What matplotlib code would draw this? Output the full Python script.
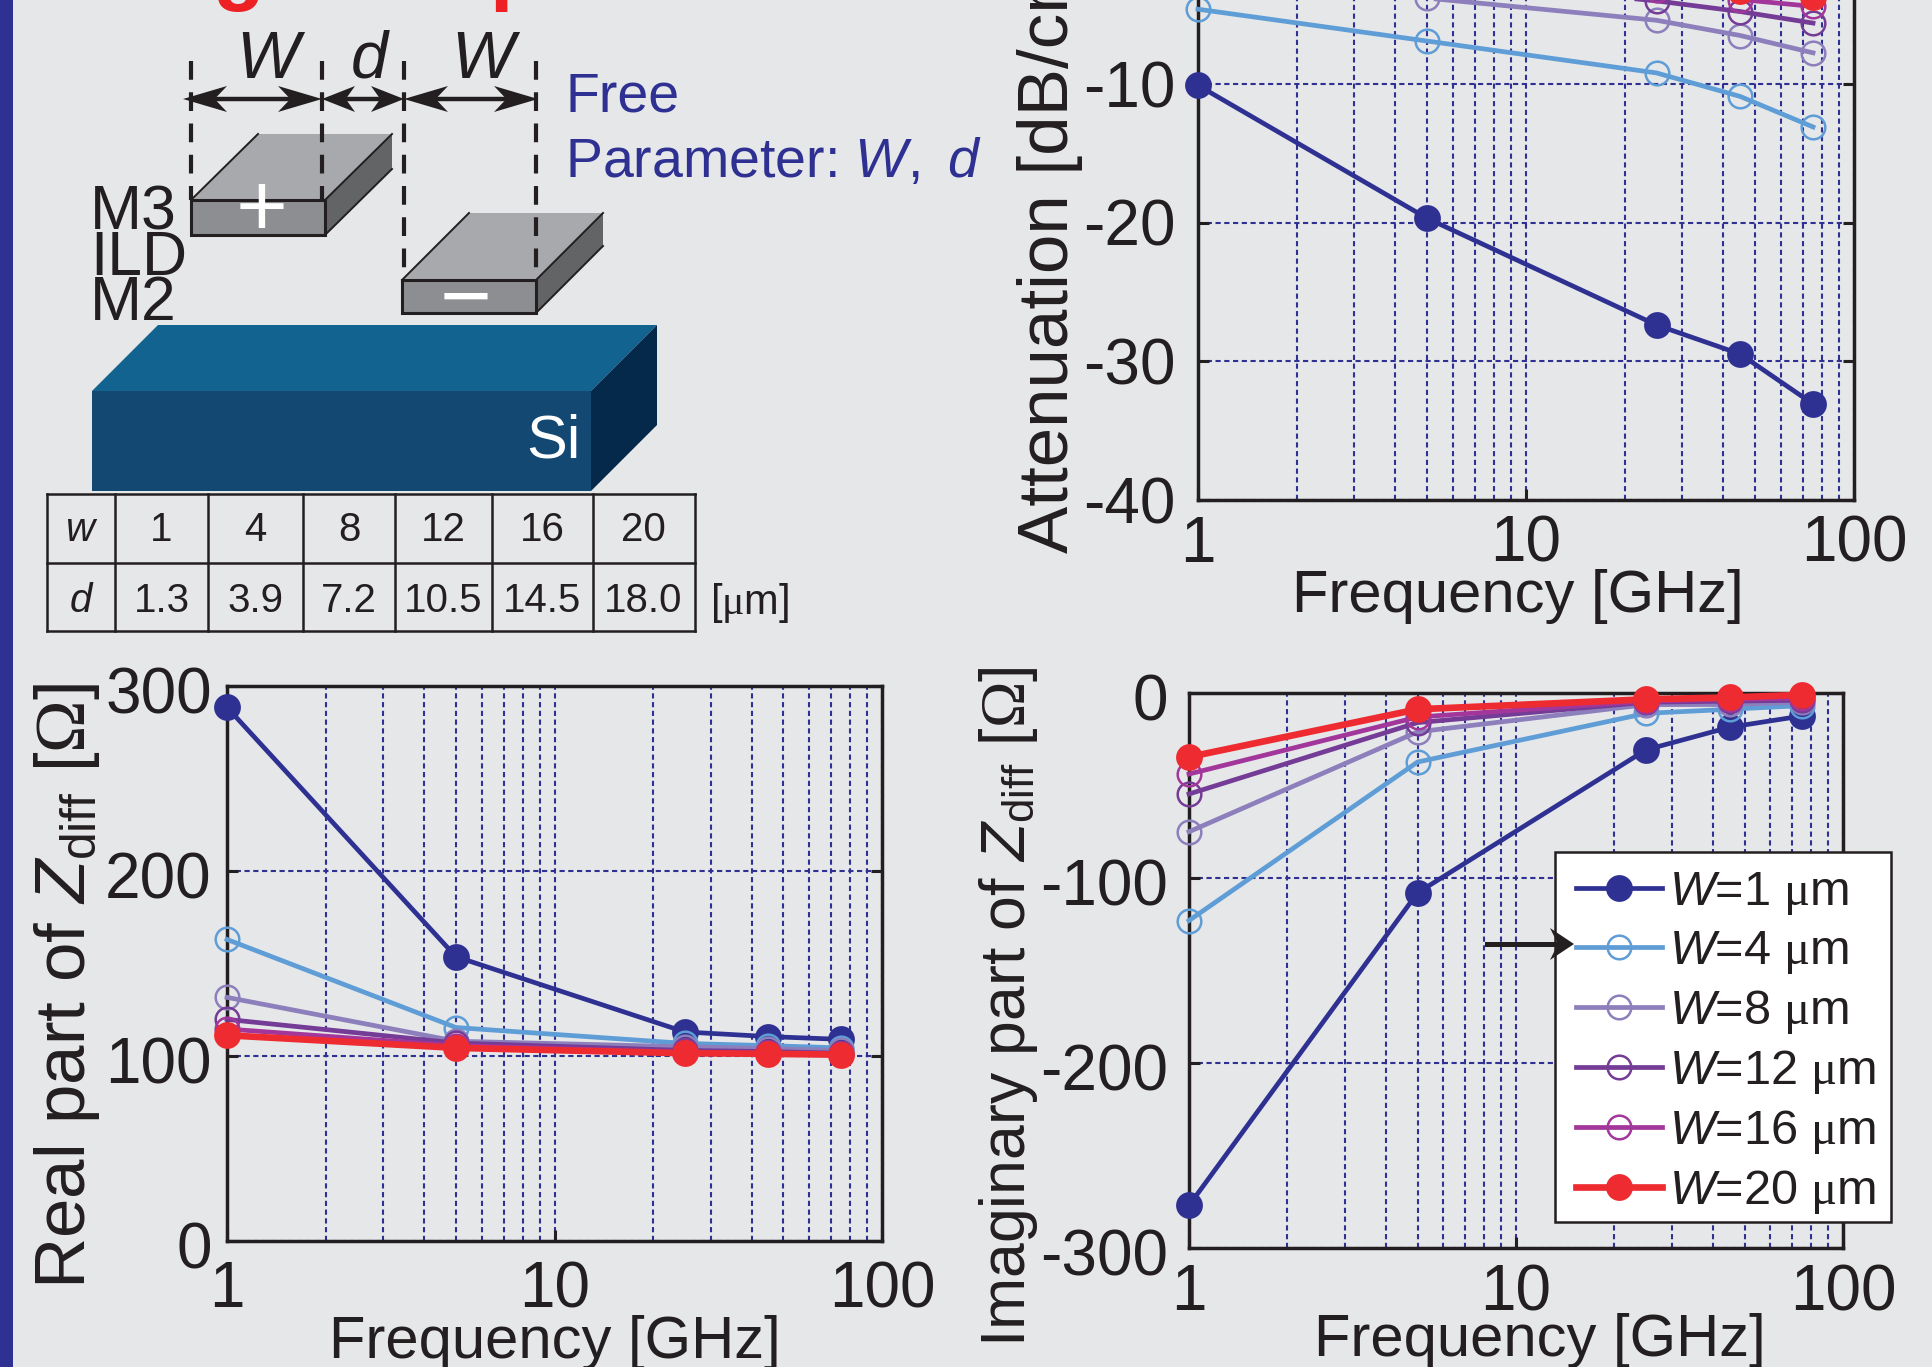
import matplotlib
matplotlib.use("Agg")
import matplotlib.pyplot as plt
from matplotlib.patches import Polygon, Rectangle
from matplotlib.transforms import ScaledTranslation

plt.rcParams['font.family'] = ['Liberation Sans', 'DejaVu Sans']
plt.rcParams['axes.unicode_minus'] = False
plt.rcParams['mathtext.fontset'] = 'custom'
plt.rcParams['mathtext.rm'] = 'Liberation Sans'
plt.rcParams['mathtext.it'] = 'Liberation Sans:italic'
plt.rcParams['mathtext.bf'] = 'Liberation Serif'

FIG_W, FIG_H = 1932, 1367
BG = '#e6e7e9'
NAVY = '#2e3192'
INK = '#231f20'

# data
freq = [1, 5, 25, 45, 75]
widths = [1, 4, 8, 12, 16, 20]
gaps = ['1.3', '3.9', '7.2', '10.5', '14.5', '18.0']
colors = ['#2e3192', '#5f9dd6', '#8c7fbc', '#743c96', '#a3369a', '#ee2b30']

atten_1 = [-10.1, -19.7, -27.4, -29.5, -33.1]
atten_4 = [-4.6, -6.9, -9.2, -10.9, -13.1]
atten_8 = [-2.6, -3.8, -5.4, -6.5, -7.75]
atten_12 = [-1.6, -2.4, -4.0, -4.77, -5.6]
atten_16 = [-1.3, -2.0, -3.2, -3.9, -4.4]
atten_20 = [-1.0, -1.7, -2.8, -3.3, -3.7]

real_1 = [288.5, 153.7, 113, 110.5, 109]
real_4 = [163, 115.4, 106.8, 105.6, 104.4]
real_8 = [131.7, 108, 105, 104, 103]
real_12 = [119.8, 107, 103, 102.4, 101.5]
real_16 = [114.6, 105.6, 102, 101.5, 101]
real_20 = [111.2, 104.4, 101.5, 101.2, 100.7]

imag_1 = [-277, -108, -30.7, -18.5, -12.4]
imag_4 = [-123, -37.3, -11, -8.8, -6.8]
imag_8 = [-75, -21, -6.3, -6.2, -5]
imag_12 = [-54.6, -16, -5, -4.4, -3.9]
imag_16 = [-43.8, -13, -4.4, -3.4, -2.7]
imag_20 = [-34.6, -8.8, -3.4, -2.4, -1]

atten = [atten_1, atten_4, atten_8, atten_12, atten_16, atten_20]
real = [real_1, real_4, real_8, real_12, real_16, real_20]
imag = [imag_1, imag_4, imag_8, imag_12, imag_16, imag_20]

fig = plt.figure(figsize=(FIG_W / 100, FIG_H / 100), dpi=100, facecolor=BG)

# full figure overlay in pixel coordinates, for the sketch and the loose text
ov = fig.add_axes([0, 0, 1, 1], zorder=5)
ov.set_xlim(0, FIG_W)
ov.set_ylim(FIG_H, 0)
ov.axis('off')
ov.patch.set_alpha(0)


def make_axes(left, right, top, bottom):
    ax = fig.add_axes([left / FIG_W, 1 - bottom / FIG_H,
                       (right - left) / FIG_W, (bottom - top) / FIG_H], zorder=2)
    ax.set_facecolor(BG)
    ax.set_xscale('log')
    ax.set_xlim(1, 100)
    ax.set_xticks([1, 10, 100], ['1', '10', '100'])
    ax.tick_params(axis='x', which='minor', length=0, labelbottom=False)
    ax.grid(True, which='both', color=NAVY, ls=(0, (2.5, 1.7)), lw=1.5)
    ax.set_axisbelow(True)
    for s in ax.spines.values():
        s.set_linewidth(2.5)
        s.set_color(INK)
    return ax


def draw_series(ax, rows):
    for i, vals in enumerate(rows):
        filled = i == 0 or i == 5
        lw = 4.8 if i == 5 else 3.4
        ax.plot(freq, vals, color=colors[i], lw=lw, marker='o',
                ms=17.5 if filled else 17,
                mfc=colors[i] if filled else 'none',
                mec=colors[i], mew=1.8, clip_on=False, zorder=3 + i,
                label=r'$\mathit{W}$=%d $\mathbf{\mu}$m' % widths[i])


def finish(ax, yticks, xpad, ypad, ydrop=0):
    ax.set_yticks(yticks, [str(v) for v in yticks])
    ax.set_ylim(min(yticks), max(yticks))
    ax.tick_params(axis='both', which='major', direction='in', length=8, width=2.2,
                   right=True, labelsize=46, labelcolor=INK, color=INK)
    ax.tick_params(axis='x', pad=xpad)
    ax.tick_params(axis='y', pad=ypad)
    if ydrop:
        # the value labels sit a little below their ticks in the lower panels
        off = ScaledTranslation(0, -ydrop / 100, fig.dpi_scale_trans)
        for t in ax.get_yticklabels():
            t.set_transform(t.get_transform() + off)


ax_a = make_axes(1198, 1854, -54.5, 499.5)
draw_series(ax_a, atten)
finish(ax_a, [-40, -30, -20, -10, 0], 11, 16)

ax_r = make_axes(227, 882, 686, 1241)
draw_series(ax_r, real)
finish(ax_r, [0, 100, 200, 300], 14, 11, ydrop=4)

ax_i = make_axes(1189, 1843, 693, 1248)
draw_series(ax_i, imag)
finish(ax_i, [-300, -200, -100, 0], 11, 15, ydrop=4)

# legend box is drawn on its own so that its size can follow the reference
ax_i.add_patch(Rectangle((1555 / FIG_W, 1 - 1222 / FIG_H), 336 / FIG_W, 370 / FIG_H,
                         transform=fig.transFigure, fc='white', ec=INK, lw=1.8,
                         clip_on=False, zorder=19))
leg = ax_i.legend(loc='upper left', bbox_to_anchor=(1558.5 / FIG_W, 1 - 852 / FIG_H),
                  bbox_transform=fig.transFigure, borderaxespad=0, fontsize=35,
                  frameon=False, handlelength=1.75, handletextpad=0.145,
                  labelspacing=0.246, borderpad=0.37, labelcolor=INK)
leg.set_zorder(20)


def label(x, y, s, size, rot=0, **kw):
    kw.setdefault('color', INK)
    ov.text(x, y, s, fontsize=size, rotation=rot, rotation_mode='anchor',
            va='baseline', clip_on=False, **kw)


# axis titles
label(1518, 612, 'Frequency [GHz]', 43, ha='center')
label(555, 1358, 'Frequency [GHz]', 43, ha='center')
label(1540, 1356, 'Frequency [GHz]', 43, ha='center')
label(1068, 553, r'Attenuation [dB/cm]', 51, rot=90, ha='left')
label(85, 1289, r'Real part of $\mathit{Z}_{\mathrm{diff}}$ [$\mathbf{\Omega}$]', 51, rot=90, ha='left')
label(1025, 1347, r'Imaginary part of $\mathit{Z}_{\mathrm{diff}}$ [$\mathbf{\Omega}$]', 45, rot=90, ha='left')

# left bar and the lower ends of the cropped red heading
ov.add_patch(Rectangle((0, 0), 12.5, FIG_H, color=NAVY, lw=0))
label(212, -6.5, 'g', 61, color='#ed2024', fontweight='bold')
label(489, -6.5, 'p', 61, color='#ed2024', fontweight='bold')


def block(x0, x1, y0, y1, dx, dy, top, front, side, edge=None):
    ec = edge if edge else 'none'
    lw = 2.2 if edge else 0
    ov.add_patch(Polygon([(x0, y0), (x0 + dx, y0 - dy), (x1 + dx, y0 - dy), (x1, y0)],
                         fc=top, ec='none'))
    ov.add_patch(Polygon([(x1, y0), (x1 + dx, y0 - dy), (x1 + dx, y1 - dy), (x1, y1)],
                         fc=side, ec='none'))
    ov.add_patch(Rectangle((x0, y0), x1 - x0, y1 - y0, fc=front, ec=ec, lw=lw))
    if edge:
        ov.plot([x0, x0 + dx], [y0, y0 - dy], color=edge, lw=1.4)
        ov.plot([x1, x1 + dx], [y0, y0 - dy], color=edge, lw=1.4)
        ov.plot([x1, x1 + dx], [y1, y1 - dy], color=edge, lw=1.4)


def head(tip, y, sign, size):
    ov.add_patch(Polygon([(tip, y), (tip + sign * size, y - 13), (tip + sign * size * 0.72, y),
                          (tip + sign * size, y + 13)], fc=INK, ec='none', zorder=6))


# silicon and the two metal lines
block(92, 591, 391, 491, 66, 66, '#136391', '#134873', '#05294b')
block(191, 325, 200, 235, 67, 66, '#a7a9ac', '#8c8e91', '#636466', edge=INK)
block(402, 536, 280, 313, 67, 67, '#a7a9ac', '#8c8e91', '#636466', edge=INK)

for x, y_end in [(191, 200), (322, 200), (404, 280), (536, 280)]:
    ov.plot([x, x], [61, y_end], color=INK, lw=3.0, ls=(0, (4.5, 3.0)), zorder=5)

for a, b, size in [(183, 322, 44), (322, 404, 33), (404, 538, 44)]:
    ov.plot([a + 20, b - 20], [99, 99], color=INK, lw=3.2, zorder=6)
    head(a, 99, 1, size)
    head(b, 99, -1, size)

ov.text(261.5, 203, '+', fontsize=64, color='white', ha='center', va='center_baseline', zorder=7)
ov.text(466, 293, '\u2212', fontsize=64, color='white', ha='center', va='center_baseline', zorder=7)

label(268, 78, 'W', 48, ha='center', style='italic')
label(369, 78, 'd', 48, ha='center', style='italic')
label(483, 78, 'W', 48, ha='center', style='italic')
label(565, 112, 'Free', 40, color=NAVY)
label(565, 177.5, r'Parameter: $\mathit{W,}$ $\mathit{d}$', 40, color=NAVY)
label(90, 229, 'M3', 45)
label(90, 275, 'ILD', 45)
label(90, 320.5, 'M2', 45)
label(526, 457, 'Si', 44, color='white')

# small table of widths and gaps
col_x = [46.5, 115, 208, 303, 395, 492, 592.5, 694.5]
row_y = [494, 563, 631]
for x in col_x:
    ov.plot([x, x], [row_y[0], row_y[-1]], color=INK, lw=1.8, solid_capstyle='projecting')
for y in row_y:
    ov.plot([col_x[0], col_x[-1]], [y, y], color=INK, lw=1.8, solid_capstyle='projecting')
label(81, 541, 'w', 29, ha='center', style='italic')
label(81, 612, 'd', 29, ha='center', style='italic')
for i in range(6):
    xc = (col_x[i + 1] + col_x[i + 2]) / 2
    label(xc, 541, str(widths[i]), 29, ha='center')
    label(xc, 612, gaps[i], 29, ha='center')
label(710, 614, r'[$\mathbf{\mu}$m]', 30)

# arrow pointing at the W=4 legend entry
ov.plot([1487, 1560], [944, 944], color=INK, lw=3.6, zorder=21)
ov.add_patch(Polygon([(1574, 944), (1550, 928), (1558, 944), (1550, 960)], fc=INK, ec='none', zorder=21))

fig.savefig('out.png', dpi=100, facecolor=BG)
